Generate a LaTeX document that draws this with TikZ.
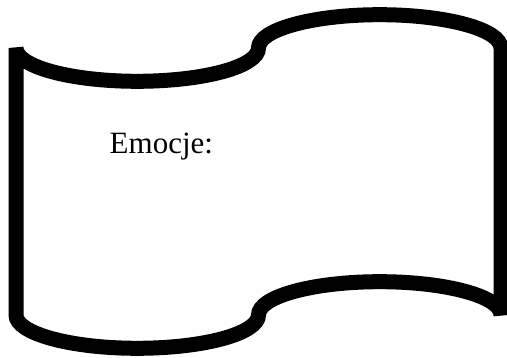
\documentclass[tikz,border=0pt]{standalone}
\usepackage{fontspec}
\setmainfont{Liberation Serif}
\begin{document}
\begin{tikzpicture}[x=1pt,y=1pt,
  tape/.style={draw=black,fill=white,line width=15pt,line join=miter},
  label/.style={font=\fontsize{31}{37}\selectfont,inner sep=0pt,anchor=base west}]
\useasboundingbox (0,0) rectangle (507,358);
\coordinate (A) at (16,310);
\coordinate (D) at (501,43);
\draw[tape] (A) arc[start angle=180,end angle=360,x radius=121.25pt,y radius=33.3pt]
  arc[start angle=180,end angle=0,x radius=121.25pt,y radius=33.3pt]
  -- (D)
  arc[start angle=0,end angle=180,x radius=121.25pt,y radius=33.3pt]
  arc[start angle=0,end angle=-180,x radius=121.25pt,y radius=33.3pt]
  -- cycle;
\node[label] (t) at (109.5,204) {Emocje:};
\end{tikzpicture}
\end{document}
